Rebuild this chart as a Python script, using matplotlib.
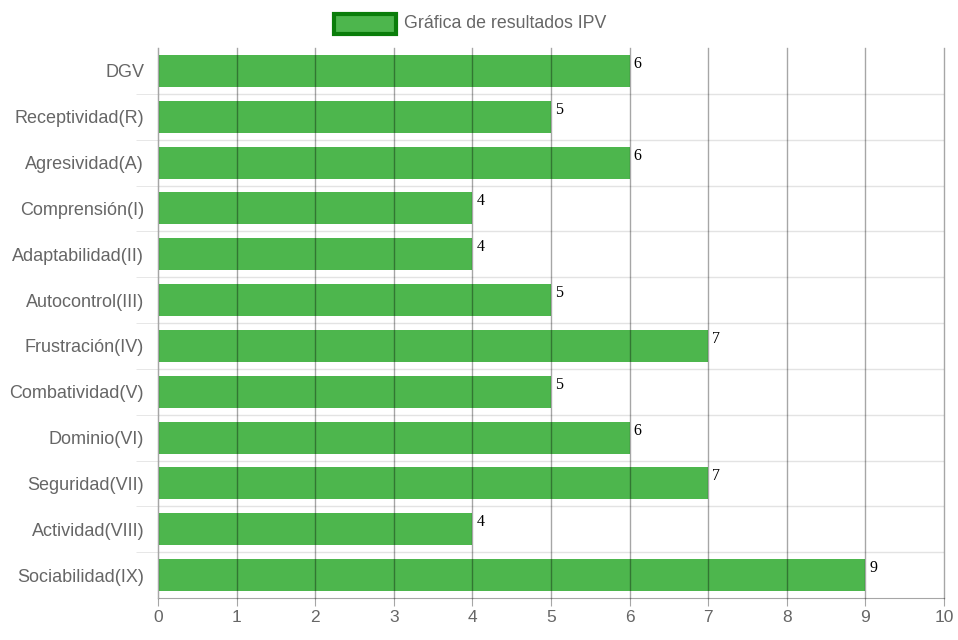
import matplotlib
matplotlib.use("Agg")
import matplotlib.pyplot as plt
from matplotlib.patches import Rectangle
import numpy as np

categories = ["DGV", "Receptividad(R)", "Agresividad(A)", "Comprensión(I)",
              "Adaptabilidad(II)", "Autocontrol(III)", "Frustración(IV)",
              "Combatividad(V)", "Dominio(VI)", "Seguridad(VII)",
              "Actividad(VIII)", "Sociabilidad(IX)"]
values = [6, 5, 6, 4, 4, 5, 7, 5, 6, 7, 4, 9]
x_ticks = list(range(0, 11))
legend_label = "Gráfica de resultados IPV"

BAR = "#4DB64D"
TXT = "#666666"

plt.rcParams['font.family'] = ['Liberation Sans', 'DejaVu Sans']

fig = plt.figure(figsize=(9.58, 6.4), dpi=100)
ax = fig.add_axes([158/958, 42/640, (944-158)/958, (598-48)/640])

y = np.arange(len(categories))
ax.barh(y, values, height=0.7, color=BAR, zorder=2)

ax.set_xlim(0, 10)
ax.set_ylim(len(categories)-0.5, -0.5)

# vertical grid lines on top (semi-transparent)
for t in x_ticks:
    ax.axvline(t, color="black", alpha=0.35, lw=1, zorder=3, clip_on=False)
# horizontal light lines between categories
for b in np.arange(0.5, len(categories)-0.5, 1):
    ax.axhline(b, color="#e3e3e3", lw=1, zorder=1)

ax.set_xticks(x_ticks)
ax.set_xticklabels([str(t) for t in x_ticks], fontsize=12.5, color=TXT)
ax.tick_params(axis='x', length=6, color="#a6a6a6", pad=3)

ax.set_yticks(y)
ax.set_yticklabels(categories, fontsize=13, color=TXT)
ax.tick_params(axis='y', which='major', length=0, pad=10)
ax.set_yticks(np.arange(0.5, len(categories)-0.5, 1), minor=True)
ax.tick_params(axis='y', which='minor', length=16, color="#e3e3e3")

for s in ['top', 'right']:
    ax.spines[s].set_visible(False)
ax.spines['left'].set_color("#a6a6a6")
ax.spines['bottom'].set_color("#a6a6a6")
ax.spines['left'].set_zorder(4)

for yi, v in zip(y, values):
    ax.annotate(str(v), xy=(v, yi-0.35), xytext=(4, -1), textcoords='offset pixels',
                ha='left', va='top', fontsize=11.5, color='black',
                family=['Liberation Serif', 'DejaVu Serif'], zorder=5)

# legend
fig.patches.append(Rectangle((334/958, 1-34/640), 62/958, 20/640, transform=fig.transFigure,
                             facecolor=BAR, edgecolor="#0a7d0a", lw=3, zorder=5))
fig.text(404/958, 1-23/640, legend_label, ha='left', va='center', fontsize=12.8, color=TXT)

fig.savefig("out.png", dpi=100)
